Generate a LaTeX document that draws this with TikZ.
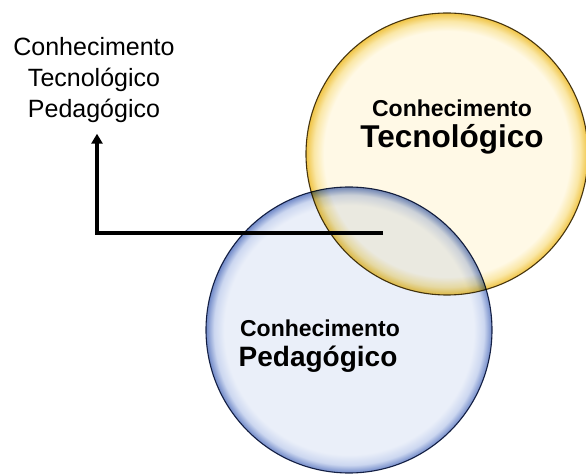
\documentclass[tikz,border=0pt]{standalone}
\usepackage{fontspec}
\setmainfont{Liberation Sans}
\usetikzlibrary{positioning}
\usetikzlibrary{arrows.meta}

\definecolor{tecin}{HTML}{FFF9E6}
\definecolor{tecmid}{HTML}{FAE7A6}
\definecolor{tecgold}{HTML}{F0C445}
\definecolor{tecedge}{HTML}{4A3D1A}
\definecolor{pedin}{HTML}{EAEFF9}
\definecolor{pedmid}{HTML}{CCD7F0}
\definecolor{pedblue}{HTML}{7089C8}
\definecolor{pededge}{HTML}{1E2B4D}

% glossy balls: flat middle, coloured rim
\pgfdeclareradialshading{tecball}{\pgfpoint{0bp}{0bp}}{color(0bp)=(tecin); color(21.8bp)=(tecin); color(23.6bp)=(tecmid); color(25bp)=(tecgold); color(50bp)=(tecgold)}
\pgfdeclareradialshading{pedball}{\pgfpoint{0bp}{0bp}}{color(0bp)=(pedin); color(21.8bp)=(pedin); color(23.6bp)=(pedmid); color(25bp)=(pedblue); color(50bp)=(pedblue)}

\tikzset{
  ball/.style = {circle, inner sep=0pt, line width=1.1pt},
  bigword/.style = {anchor=base, font=\bfseries\fontsize{#1}{#1}\selectfont},
  arrowline/.style = {line width=3.4pt, -{Triangle[length=10pt,width=11pt]}}
}

\begin{document}
\begin{tikzpicture}[x=1pt,y=1pt]
  \useasboundingbox (0,0) rectangle (586,474);

  \begin{scope}[blend mode=multiply]
    \node[ball, shading=tecball, draw=tecedge, minimum size=282pt] (tec) at (447,320) {};
    \node[ball, shading=pedball, draw=pededge, minimum size=286pt] (ped) at (349,144) {};
  \end{scope}

  \node[bigword=23] (tecA) at (452,357) {Conhecimento};
  \node[bigword=31.5] (tecB) at (452,326) {Tecnológico};
  \node[bigword=23] (pedA) at (320,137) {Conhecimento};
  \node[bigword=28] (pedB) at (318,107) {Pedagógico};

  \node[align=center, anchor=north, inner sep=0pt, font=\fontsize{25}{31}\selectfont] (tpk) at (94,437)
    {Conhecimento\\Tecnológico\\Pedagógico};

  \coordinate (meet) at (383,241);
  \draw[arrowline] (meet) -| ([xshift=3pt,yshift=-11pt]tpk.south);
\end{tikzpicture}
\end{document}
